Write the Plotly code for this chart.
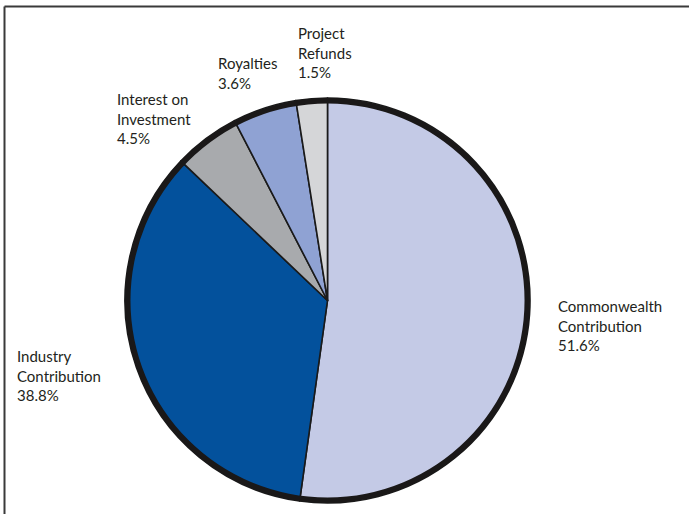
import plotly.graph_objects as go

# Data (slice sizes; label text as printed)
categories = ["Commonwealth Contribution", "Industry Contribution", "Interest on Investment",
              "Royalties", "Project Refunds"]
values = [52.2, 34.9, 5.3, 5.1, 2.5]
label_lines = [["Commonwealth", "Contribution", "51.6%"],
               ["Industry", "Contribution", "38.8%"],
               ["Interest on", "Investment", "4.5%"],
               ["Royalties", "3.6%"],
               ["Project", "Refunds", "1.5%"]]
colors = ["#c4cae6", "#03519c", "#a8aaad", "#8fa2d3", "#d5d6d8"]

W, H = 689, 514
cx, cy, R = 327.5, 300.5, 202.5
dom_x = [(cx - R) / W, (cx + R) / W]
dom_y = [1 - (cy + R) / H, 1 - (cy - R) / H]

fig = go.Figure()
fig.add_trace(go.Pie(
    labels=categories, values=values, sort=False, direction="clockwise", rotation=0,
    marker=dict(colors=colors, line=dict(color="#1a1a1a", width=1.6)),
    textinfo="none", hoverinfo="label+percent", showlegend=False,
    domain=dict(x=dom_x, y=dom_y),
))
# thick outer outline ring
fig.add_trace(go.Pie(
    labels=["outline"], values=[1], hole=0.973, sort=False,
    marker=dict(colors=["#1a1818"], line=dict(width=0)),
    textinfo="none", hoverinfo="skip", showlegend=False,
    domain=dict(x=dom_x, y=dom_y),
))

# label anchor positions (px, top-left of text block)
label_pos = [(556, 295), (15, 345), (115, 88), (216, 52), (296, 22)]
for lines, (px, py) in zip(label_lines, label_pos):
    fig.add_annotation(
        x=px / W, y=1 - py / H, xref="paper", yref="paper",
        xanchor="left", yanchor="top", align="left", showarrow=False,
        text="<br>".join(lines),
        font=dict(family="Lato, Open Sans, sans-serif", size=15, color="#231f20"),
    )

# frame lines (top and left)
fig.add_shape(type="line", xref="paper", yref="paper",
              x0=4.5 / W, x1=1.0, y0=1 - 6.5 / H, y1=1 - 6.5 / H,
              line=dict(color="#3a3a3a", width=2))
fig.add_shape(type="line", xref="paper", yref="paper",
              x0=4.5 / W, x1=4.5 / W, y0=1 - 6.5 / H, y1=0,
              line=dict(color="#3a3a3a", width=2))

fig.update_layout(
    width=W, height=H, margin=dict(l=0, r=0, t=0, b=0),
    paper_bgcolor="white", plot_bgcolor="white",
)
fig.write_html("out.html", config={"displayModeBar": False},
               post_script="document.body.style.margin='0';")
